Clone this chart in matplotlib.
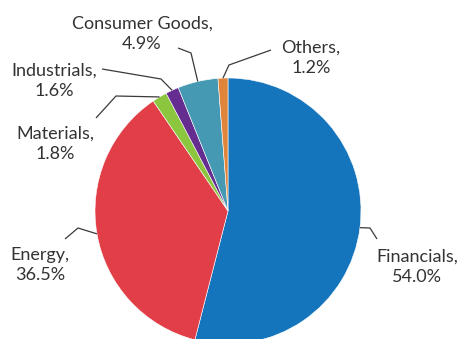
import numpy as np
import matplotlib.pyplot as plt

sectors = ["Financials", "Energy", "Materials", "Industrials", "Consumer Goods", "Others"]
shares = [54.0, 36.5, 1.8, 1.6, 4.9, 1.2]
colors = ["#1474bc", "#e13e47", "#8cc63f", "#652d90", "#4699b3", "#e0843b"]

# label layout in pixels: text centre, then elbow points of the leader line
label_pos = {
    "Financials": ((417, 267), [(377, 239), (370, 228)]),
    "Energy": ((40, 265), [(65, 239), (78, 228)]),
    "Materials": ((55, 144), [(96, 118), (116, 96)]),
    "Industrials": ((54, 81), [(102, 69), (161, 79)]),
    "Consumer Goods": ((142, 34), [(178, 48), (191, 53)]),
    "Others": ((311, 58), [(271, 50), (229, 65)]),
}

W, H = 461, 339
cx, cy, R = 228, 211, 133


def to_data(px, py):
    return (px - cx) / R, (cy - py) / R


fig = plt.figure(figsize=(W / 100, H / 100), dpi=100)
ax = fig.add_axes([0, 0, 1, 1])
wedges, _ = ax.pie(shares, colors=colors, startangle=90, counterclock=False,
                   radius=1, center=(0, 0),
                   wedgeprops=dict(edgecolor="white", linewidth=0.4))

for w, name, val in zip(wedges, sectors, shares):
    mid = np.deg2rad((w.theta1 + w.theta2) / 2)
    edge = (np.cos(mid), np.sin(mid))
    (tx, ty), elbows = label_pos[name]
    pts = [to_data(*p) for p in elbows] + [edge]
    xs, ys = zip(*pts)
    ax.plot(xs, ys, color="#3a3a3a", lw=0.9, solid_capstyle="butt")
    x, y = to_data(tx, ty)
    ax.text(x, y, f"{name},\n{val:.1f}%", ha="center", va="center",
            fontsize=13, family="Lato", color="#333333", linespacing=1.3)

x0, y1 = to_data(0, 0)
x1, y0 = to_data(W, H)
ax.set_xlim(x0, x1)
ax.set_ylim(y0, y1)
ax.set_aspect("equal")
ax.axis("off")
fig.savefig("out.png", dpi=100)
